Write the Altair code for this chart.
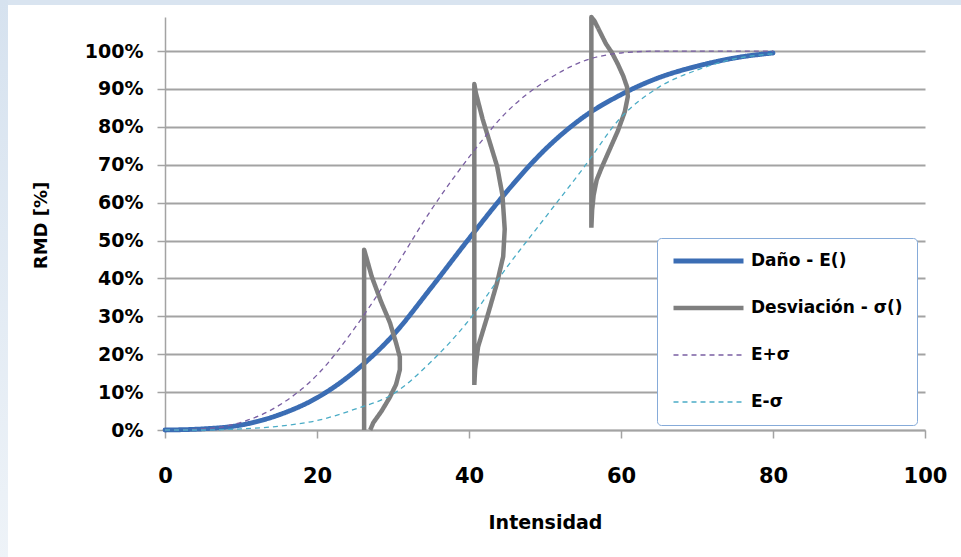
import altair as alt
import pandas as pd

# Series names and styling
series_names = ["Daño - E()", "Desviación - σ()", "E+σ", "E-σ"]
series_colors = ["#3b6db4", "#7f7f7f", "#7a5fa3", "#4bacc6"]
series_dash = [[1, 0], [1, 0], [5, 4], [5, 4]]
series_width = [4.8, 4.5, 1.3, 1.3]

# Vulnerability curves (RMD in %) against intensity
intensity = [0, 5, 10, 15, 20, 25, 30, 35, 40, 45, 50, 55, 60, 65, 70, 75, 80]
dano_mean = [0, 0.3, 1.3, 4.0, 8.5, 15.5, 25.0, 37.5, 50.5, 63.0, 74.0, 82.5, 88.5, 93.0, 96.0, 98.2, 99.5]
dano_plus = [0, 0.3, 2.0, 6.5, 14.5, 27.0, 42.0, 58.0, 72.0, 84.0, 92.0, 97.3, 99.5, 100.0, 100.0, 100.0, 100.0]
dano_minus = [0, 0.0, 0.3, 1.0, 2.5, 5.5, 9.5, 18.0, 29.0, 43.0, 56.0, 69.0, 82.5, 90.5, 95.0, 98.0, 99.3]

# Dispersion profiles drawn at three intensities
dist_low_x = [26.2, 26.2, 26.5, 27.2, 28.4, 29.6, 30.4, 30.9, 30.9, 30.4, 29.6, 28.5, 27.4, 27.0]
dist_low_y = [0, 47.6, 45.5, 40.5, 34.0, 28.3, 23.0, 19.3, 15.9, 12.0, 8.7, 5.0, 1.9, 0]
dist_mid_x = [40.7, 40.7, 40.9, 41.8, 42.8, 43.7, 44.4, 44.7, 44.5, 43.7, 42.4, 41.2, 40.8, 40.7]
dist_mid_y = [11.9, 91.3, 89.0, 82.0, 75.5, 69.6, 62.0, 53.0, 45.8, 38.9, 29.9, 22.0, 15.9, 11.9]
dist_high_x = [56.1, 56.1, 56.5, 57.0, 58.0, 58.8, 59.6, 60.3, 60.8, 60.9, 60.5, 59.6, 58.5, 57.4, 56.8, 56.4, 56.2, 56.1]
dist_high_y = [53.4, 109.0, 108.0, 106.0, 102.0, 99.6, 96.5, 93.4, 90.5, 88.0, 84.0, 79.0, 74.0, 69.0, 66.0, 62.0, 58.0, 53.4]

x_ticks = [0, 20, 40, 60, 80, 100]
y_ticks = [0, 10, 20, 30, 40, 50, 60, 70, 80, 90, 100]

rows = []
for name, ys in [(series_names[0], dano_mean), (series_names[2], dano_plus), (series_names[3], dano_minus)]:
    for i, (xv, yv) in enumerate(zip(intensity, ys)):
        rows.append({"x": xv, "y": yv, "serie": name, "grp": name, "ord": i})
for grp, xs, ys in [("a", dist_low_x, dist_low_y), ("b", dist_mid_x, dist_mid_y), ("c", dist_high_x, dist_high_y)]:
    for i, (xv, yv) in enumerate(zip(xs, ys)):
        rows.append({"x": xv, "y": yv, "serie": series_names[1], "grp": grp, "ord": i})
df = pd.DataFrame(rows)

FONT = "DejaVu Sans"
GRID = "#a3a3a3"

x_enc = alt.X(
    "x:Q",
    scale=alt.Scale(domain=[0, 100], nice=False, zero=False),
    axis=alt.Axis(
        values=x_ticks, title="Intensidad", grid=False, tickSize=8, tickColor=GRID,
        domainColor=GRID, domainWidth=1.5, tickWidth=1.5,
        labelFont=FONT, labelFontWeight="bold", labelFontSize=21, labelColor="black",
        labelPadding=27, labelFlush=False,
        titleFont=FONT, titleFontWeight="bold", titleFontSize=19, titleColor="black",
        titlePadding=27,
    ),
)
y_enc = alt.Y(
    "y:Q",
    scale=alt.Scale(domain=[0, 109], nice=False),
    axis=alt.Axis(
        values=y_ticks, labelExpr="datum.value + '%'", grid=True, gridColor=GRID, gridWidth=2,
        tickSize=8, tickColor=GRID, tickWidth=1.5, domainColor=GRID, domainWidth=1.5,
        labelFont=FONT, labelFontWeight="bold", labelFontSize=19, labelColor="black",
        labelPadding=14,
        title="RMD [%]", titleFont=FONT, titleFontWeight="bold", titleFontSize=18,
        titleColor="black", titleX=-115, titleY=208, titleAngle=-90, titleAlign="center",
        titleBaseline="bottom",
    ),
)
color_enc = alt.Color(
    "serie:N",
    scale=alt.Scale(domain=series_names, range=series_colors),
    legend=alt.Legend(
        title=None, orient="none", legendX=492, legendY=221, direction="vertical",
        symbolType="stroke", symbolSize=4900, labelFont=FONT, labelFontWeight="bold",
        labelFontSize=17, labelColor="black", labelOffset=5, labelLimit=300,
        padding=14, rowPadding=29, clipHeight=18,
        fillColor="white", strokeColor="#86abd9", cornerRadius=4,
    ),
)
dash_enc = alt.StrokeDash("serie:N", scale=alt.Scale(domain=series_names, range=series_dash))
width_enc = alt.StrokeWidth(
    "serie:N", scale=alt.Scale(type="ordinal", domain=series_names, range=series_width))

base = alt.Chart(df).encode(
    x=x_enc, y=y_enc, color=color_enc, strokeDash=dash_enc, strokeWidth=width_enc,
    detail="grp:N", order="ord:Q",
)

mean_line = base.transform_filter(alt.datum.serie == series_names[0]).mark_line(
    interpolate="monotone", strokeCap="round")
dist_line = base.transform_filter(alt.datum.serie == series_names[1]).mark_line(
    interpolate="linear", strokeJoin="round", strokeCap="butt")
plus_line = base.transform_filter(alt.datum.serie == series_names[2]).mark_line(
    interpolate="monotone")
minus_line = base.transform_filter(alt.datum.serie == series_names[3]).mark_line(
    interpolate="monotone")

# Pale blue page margins along the top and left edges
one = pd.DataFrame({"k": [0]})
top_strip = alt.Chart(one).mark_rect(color="#d9e4f0").encode(
    x=alt.value(-165), x2=alt.value(800), y=alt.value(-17), y2=alt.value(-12))
side_strip = alt.Chart(one).mark_rect(
    color=alt.Gradient(gradient="linear", x1=0, y1=0, x2=0, y2=1,
                       stops=[alt.GradientStop(color="#d6e2ef", offset=0),
                              alt.GradientStop(color="#eef3f8", offset=1)])
).encode(x=alt.value(-165), x2=alt.value(-157), y=alt.value(-17), y2=alt.value(545))

chart = (
    alt.layer(top_strip, side_strip, mean_line, dist_line, plus_line, minus_line)
    .properties(
        width=760, height=413,
        autosize=alt.AutoSizeParams(type="none"),
        padding={"left": 165, "top": 17, "right": 36, "bottom": 127},
        background="white",
    )
    .configure_view(stroke=None)
)

chart.save("out.html", embed_options={"renderer": "svg", "actions": False})
